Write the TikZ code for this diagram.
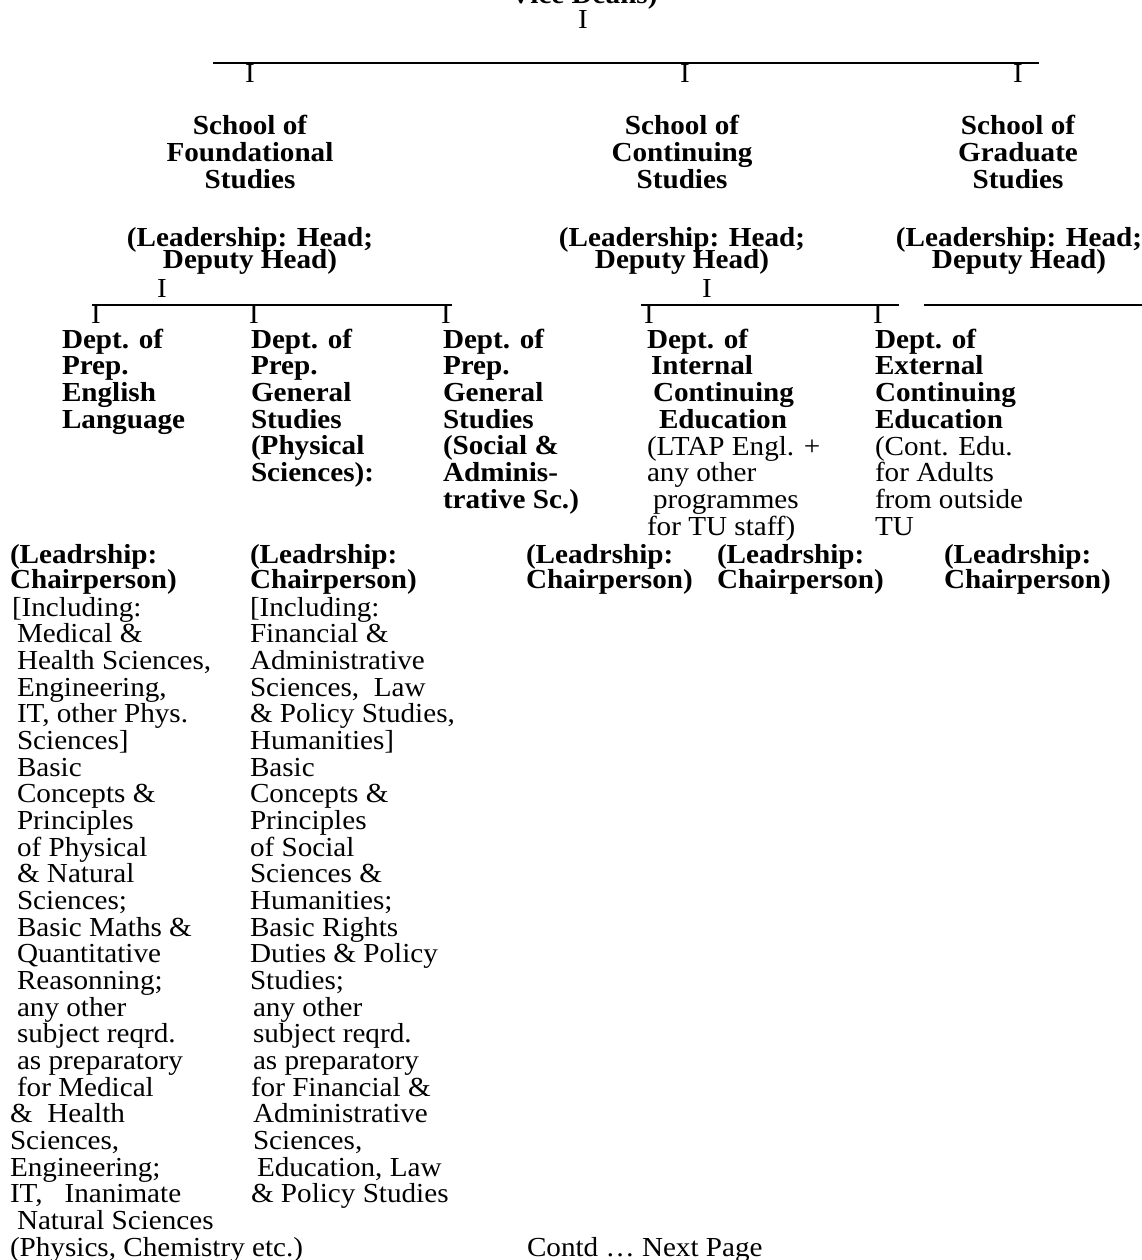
\documentclass[tikz,border=0pt]{standalone}
\usepackage{fontspec}
\setmainfont{Liberation Serif}[FakeStretch=1.06]
\newcommand\vl[2]{\vtop{\baselineskip=#1\lineskiplimit=-100pt\lineskip=0pt\halign{##\hfil\cr#2\crcr}}}
\newcommand\vc[2]{\vtop{\baselineskip=#1\lineskiplimit=-100pt\lineskip=0pt\halign{\hfil##\hfil\cr#2\crcr}}}
\newcommand\indt[1]{\hskip#1pt\relax}
\tikzset{
  txtbase/.style={inner sep=0pt, outer sep=0pt, font=\fontsize{27.5}{26.67}\selectfont},
  lt/.style={txtbase, anchor=base west},
  ct/.style={txtbase, anchor=base},
  bf/.style={font=\fontsize{27.5}{26.67}\selectfont\bfseries},
  bar/.style={line width=1.6pt},
  subbar/.style={line width=1.3pt},
}
\begin{document}
\begin{tikzpicture}[x=1pt,y=-1pt]
\useasboundingbox (0,0) rectangle (1142,1260);
\clip (0,0) rectangle (1142,1260);
\fill[white] (0,0) rectangle (1142,1260);

% top
\node[ct,bf] (vd) at (584,4) {Vice Deans)};
\node[ct] (t0) at (583,29) {I};
\coordinate (L1a) at (213,63);
\coordinate (L1b) at (1039,63);
\draw[bar] (L1a) -- (L1b);
\node[ct] (t1) at (250,83) {I};
\node[ct] (t2) at (685,83) {I};
\node[ct] (t3) at (1018,83) {I};

% schools
\node[ct,bf] (sf) at (250,135) {\vc{27pt}{School of\cr Foundational\cr Studies}};
\node[ct,bf] (sc) at (682,135) {\vc{27pt}{School of\cr Continuing\cr Studies}};
\node[ct,bf] (sg) at (1018,135) {\vc{27pt}{School of\cr Graduate\cr Studies}};
\node[ct,bf] (hf) at (250,246) {\vc{22pt}{(Leadership: Head;\cr Deputy Head)}};
\node[ct,bf] (hc) at (682,246) {\vc{22pt}{(Leadership: Head;\cr Deputy Head)}};
\node[ct,bf] (hg) at (1019,246) {\vc{22pt}{(Leadership: Head;\cr Deputy Head)}};

% second level
\node[ct] (tf) at (162,297) {I};
\node[ct] (tc) at (707,297) {I};
\coordinate (L2a) at (92,305);
\coordinate (L2b) at (452,305);
\coordinate (L3a) at (641,305);
\coordinate (L3b) at (899,305);
\coordinate (L4a) at (924,305);
\coordinate (L4b) at (1142,305);
\draw[subbar] (L2a) -- (L2b);
\draw[subbar] (L3a) -- (L3b);
\draw[subbar] (L4a) -- (L4b);
\node[ct] (d1t) at (96,323) {I};
\node[ct] (d2t) at (254,323) {I};
\node[ct] (d3t) at (446,323) {I};
\node[ct] (d4t) at (649,323) {I};
\node[ct] (d5t) at (878,323) {I};

% departments
\node[lt,bf] (d1) at (62,348) {\vl{26.67pt}{Dept. of\cr Prep.\cr English\cr Language}};
\node[lt,bf] (d2) at (251,348) {\vl{26.67pt}{Dept. of\cr Prep.\cr General\cr Studies\cr (Physical\cr Sciences):}};
\node[lt,bf] (d3) at (443,348) {\vl{26.67pt}{Dept. of\cr Prep.\cr General\cr Studies\cr (Social \&\cr Adminis-\cr trative Sc.)}};
\node[lt,bf] (d4) at (647,348) {\vl{26.67pt}{Dept. of\cr \indt{4}Internal\cr \indt{6}Continuing\cr \indt{12}Education}};
\node[lt] (d4r) at (647,455) {\vl{26.67pt}{(LTAP Engl. +\cr any other\cr \indt{6}programmes\cr for TU staff)}};
\node[lt,bf] (d5) at (875,348) {\vl{26.67pt}{Dept. of\cr External\cr Continuing\cr Education}};
\node[lt] (d5r) at (875,455) {\vl{26.67pt}{(Cont. Edu.\cr for Adults\cr from outside\cr TU}};

% chairpersons
\node[lt,bf] (c1) at (10,563) {\vl{25pt}{(Leadrship:\cr Chairperson)}};
\node[lt,bf] (c2) at (250,563) {\vl{25pt}{(Leadrship:\cr Chairperson)}};
\node[lt,bf] (c3) at (526,563) {\vl{25pt}{(Leadrship:\cr Chairperson)}};
\node[lt,bf] (c4) at (717,563) {\vl{25pt}{(Leadrship:\cr Chairperson)}};
\node[lt,bf] (c5) at (944,563) {\vl{25pt}{(Leadrship:\cr Chairperson)}};

% long texts
\node[lt] (r1) at (10,616) {\vl{26.67pt}{%
\indt{2}[Including:\cr
\indt{7}Medical \&\cr
\indt{7}Health Sciences,\cr
\indt{7}Engineering,\cr
\indt{7}IT, other Phys.\cr
\indt{7}Sciences]\cr
\indt{7}Basic\cr
\indt{7}Concepts \&\cr
\indt{7}Principles\cr
\indt{7}of Physical\cr
\indt{7}\& Natural\cr
\indt{7}Sciences;\cr
\indt{7}Basic Maths \&\cr
\indt{7}Quantitative\cr
\indt{7}Reasonning;\cr
\indt{7}any other\cr
\indt{7}subject reqrd.\cr
\indt{7}as preparatory\cr
\indt{7}for Medical\cr
\&\ \ Health\cr
Sciences,\cr
Engineering;\cr
IT,\indt{22}Inanimate\cr
\indt{7}Natural Sciences\cr
(Physics, Chemistry etc.)}};

\node[lt] (r2) at (250,616) {\vl{26.67pt}{%
[Including:\cr
Financial \&\cr
Administrative\cr
Sciences,\ \ Law\cr
\& Policy Studies,\cr
Humanities]\cr
Basic\cr
Concepts \&\cr
Principles\cr
of Social\cr
Sciences \&\cr
Humanities;\cr
Basic Rights\cr
Duties \& Policy\cr
Studies;\cr
\indt{3}any other\cr
\indt{3}subject reqrd.\cr
\indt{3}as preparatory\cr
\indt{1}for Financial \&\cr
\indt{3}Administrative\cr
\indt{3}Sciences,\cr
\indt{7}Education, Law\cr
\indt{1}\& Policy Studies}};

\node[lt] (contd) at (527,1256) {Contd … Next Page};
\end{tikzpicture}
\end{document}
